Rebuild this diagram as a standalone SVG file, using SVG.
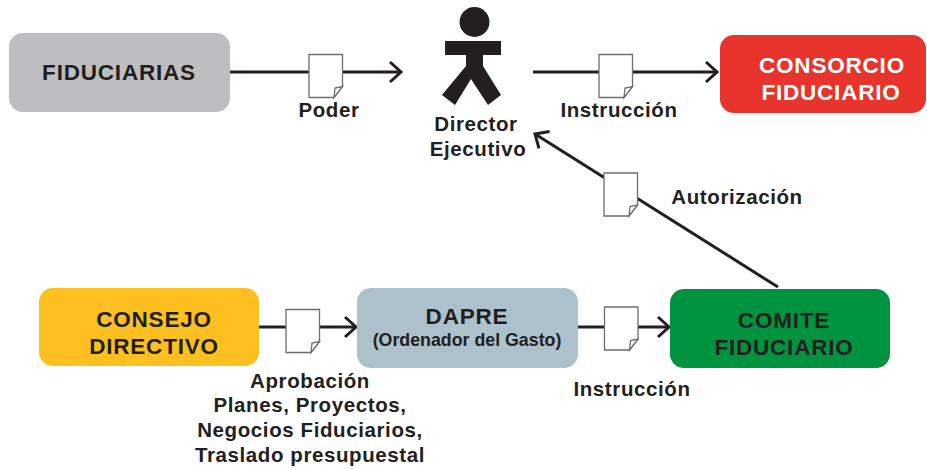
<svg xmlns="http://www.w3.org/2000/svg" width="927" height="469" viewBox="0 0 927 469">
<style>
text{font-family:"Liberation Sans","Open Sans",sans-serif;font-weight:700;fill:#231f20;text-anchor:middle}
.n{font-size:22.500px;letter-spacing:.8px}
.w{fill:#fff}
.l{font-size:20.500px;letter-spacing:.6px}
.c{fill:none;stroke:#231f20;stroke-width:3}
.d{fill:#fff;stroke:#6d6e71;stroke-width:1.3}
</style>
<defs>
<marker id="a" markerUnits="userSpaceOnUse" markerWidth="18" markerHeight="22" refX="14" refY="11" orient="auto" overflow="visible"><path d="M3 1L14 11L3 21" fill="none" stroke="#231f20" stroke-width="3"/></marker>
<g id="doc"><path class="d" d="M0 0H33.500V32L25 43H0Z"/><path class="d" d="M25 43L26 33.500L33.500 32Z"/></g>
</defs>
<rect width="927" height="469" fill="#fff"/>
<g id="connectors">
<path class="c" d="M230 72H401" marker-end="url(#a)"/>
<path class="c" d="M533 72H717" marker-end="url(#a)"/>
<path class="c" d="M778 287L535 134" marker-end="url(#a)"/>
<path class="c" d="M259 327H356" marker-end="url(#a)"/>
<path class="c" d="M577 327H669" marker-end="url(#a)"/>
<use href="#doc" x="309" y="54.500"/>
<use href="#doc" x="599" y="54.500"/>
<use href="#doc" x="604" y="173"/>
<use href="#doc" x="286" y="309.500"/>
<use href="#doc" x="604.500" y="307"/>
</g>
<g id="fiduciarias"><rect x="9" y="33" width="221" height="79" rx="14" fill="#bcbec0"/><text class="n" x="119" y="80">FIDUCIARIAS</text></g>
<g id="director"><circle cx="474.500" cy="22" r="15" fill="#231f20"/><path fill="#231f20" d="M445 41H501V55H483V66L501 95L488 105L471 79L455 105L442 95L466 66V55H445Z"/><text class="l"><tspan x="476" y="131">Director</tspan><tspan x="478" y="156">Ejecutivo</tspan></text></g>
<g id="consorcio"><rect x="720" y="35" width="206" height="78" rx="14" fill="#e8342c"/><text class="n w"><tspan x="832" y="73">CONSORCIO</tspan><tspan x="831" y="100">FIDUCIARIO</tspan></text></g>
<g id="consejo"><rect x="39" y="288" width="220" height="78" rx="14" fill="#fdc020"/><text class="n"><tspan x="154" y="327">CONSEJO</tspan><tspan x="154" y="354">DIRECTIVO</tspan></text></g>
<g id="dapre"><rect x="357" y="288" width="221" height="80" rx="14" fill="#adc1cc"/><text class="n" x="467" y="324">DAPRE</text><text x="467" y="346" font-size="17.800">(Ordenador del Gasto)</text></g>
<g id="comite"><rect x="670" y="289" width="220" height="79" rx="14" fill="#00933f"/><text class="n"><tspan x="784" y="328">COMITE</tspan><tspan x="784" y="355">FIDUCIARIO</tspan></text></g>
<g id="labels">
<text class="l" x="329" y="117">Poder</text>
<text class="l" x="619" y="117">Instrucción</text>
<text class="l" x="737" y="204">Autorización</text>
<text class="l" x="632" y="396">Instrucción</text>
<text class="l"><tspan x="310" y="388">Aprobación</tspan><tspan x="310" y="412">Planes, Proyectos,</tspan><tspan x="310" y="437">Negocios Fiduciarios,</tspan><tspan x="310" y="462">Traslado presupuestal</tspan></text>
</g>
</svg>
